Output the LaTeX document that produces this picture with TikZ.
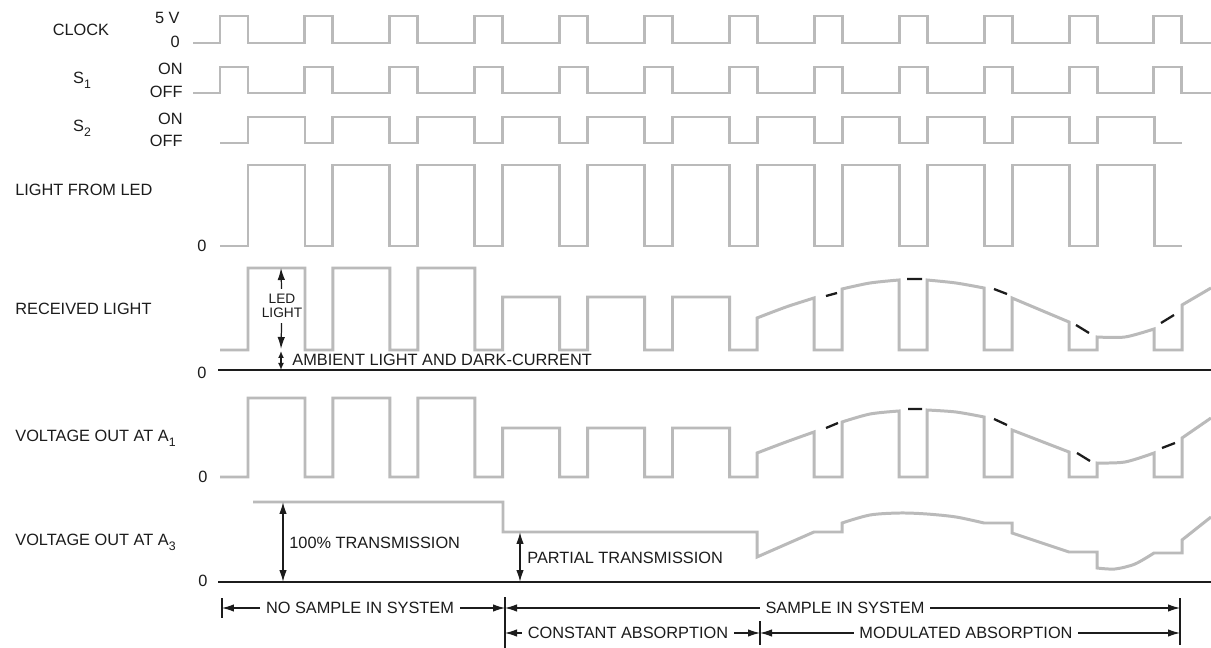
\documentclass[tikz,border=0pt]{standalone}
\usepackage{fontspec}
\setmainfont{Liberation Sans}
\usetikzlibrary{arrows.meta}
\definecolor{TrInk}{HTML}{1C1C1C}
\definecolor{TrWave}{HTML}{BABABA}
\definecolor{TrPaper}{HTML}{FFFFFF}
\newcommand{\lowsub}[1]{\raisebox{-0.55ex}{\fontsize{7}{8}\selectfont #1}}
\tikzset{
  wave/.style={TrWave,line width=1.7pt},
  axisline/.style={TrInk,line width=1.1pt},
  trace/.style={TrInk,line width=1.3pt},
  dim/.style={-{Latex[length=2.4mm,width=1.5mm]},TrInk,line width=0.7pt},
  dimboth/.style={{Latex[length=2.4mm,width=1.5mm]}-{Latex[length=2.4mm,width=1.5mm]},TrInk,line width=0.8pt},
  dimtiny/.style={{Latex[length=1.4mm,width=1.2mm]}-{Latex[length=1.4mm,width=1.2mm]},TrInk,line width=0.8pt},
  bar/.style={TrInk,line width=0.7pt},
  label/.style={text=TrInk,font=\fontsize{9.3}{11}\selectfont,inner sep=0pt},
  tag/.style={label,anchor=east},
  sidetag/.style={label,anchor=west},
  dimtext/.style={label,inner xsep=1.1mm},
  smalltext/.style={label,font=\fontsize{7.8}{8}\selectfont,align=center,inner ysep=1mm},
}

\begin{document}
\begin{tikzpicture}[x=0.02cm,y=-0.02cm]
  \useasboundingbox[fill=TrPaper] (0,0) rectangle (1211,648);
  \def\per{84.9}

  % switching signals
  \draw[wave] (193,43) foreach \k in {0,...,11} {
    -- ({220+\per*\k},43) -- ({220+\per*\k},16) -- ({248+\per*\k},16) -- ({248+\per*\k},43)} -- (1211,43);
  \draw[wave] (193,93) foreach \k in {0,...,11} {
    -- ({220+\per*\k},93) -- ({220+\per*\k},67) -- ({248+\per*\k},67) -- ({248+\per*\k},93)} -- (1211,93);
  \draw[wave] (220,143) foreach \k in {0,...,10} {
    -- ({248+\per*\k},143) -- ({248+\per*\k},117) -- ({305+\per*\k},117) -- ({305+\per*\k},143)} -- (1182,143);
  \draw[wave] (220,246) foreach \k in {0,...,10} {
    -- ({248+\per*\k},246) -- ({248+\per*\k},165) -- ({305+\per*\k},165) -- ({305+\per*\k},246)} -- (1182,246);

  % received light
  \draw[wave] (220,350)
    foreach \k in {0,1,2} {-- ({248+\per*\k},350) -- ({248+\per*\k},268) -- ({305+\per*\k},268) -- ({305+\per*\k},350)}
    foreach \k in {3,4,5} {-- ({248+\per*\k},350) -- ({248+\per*\k},297) -- ({305+\per*\k},297) -- ({305+\per*\k},350)}
    -- (757,350) -- (757,318) -- plot[smooth] coordinates {(757,318) (786,307) (814,298)}
    -- (814,350) -- (842,350) -- (842,289) -- plot[smooth] coordinates {(842,289) (870,283) (899,280)}
    -- (899,350) -- (927,350) -- (927,280) -- plot[smooth] coordinates {(927,280) (956,283) (984,288)}
    -- (984,350) -- (1012,350) -- (1012,298) -- (1069,322)
    -- (1069,350) -- (1097,350) -- (1097,337) -- plot[smooth] coordinates {(1097,337) (1125,337) (1154,329)}
    -- (1154,350) -- (1182,350) -- (1182,305) -- (1211,288);
  \draw[trace] (826,296) -- (837,293) (907,279) -- (922,279) (994,289) -- (1007,294)
    (1076,325) -- (1089,333) (1161,323) -- (1174,315);

  % output of A1
  \draw[wave] (220,477)
    foreach \k in {0,1,2} {-- ({248+\per*\k},477) -- ({248+\per*\k},398) -- ({305+\per*\k},398) -- ({305+\per*\k},477)}
    foreach \k in {3,4,5} {-- ({248+\per*\k},477) -- ({248+\per*\k},428) -- ({305+\per*\k},428) -- ({305+\per*\k},477)}
    -- (757,477) -- (757,453) -- plot[smooth] coordinates {(757,453) (786,442) (814,432)}
    -- (814,477) -- (842,477) -- (842,422) -- plot[smooth] coordinates {(842,422) (870,414) (899,411)}
    -- (899,477) -- (927,477) -- (927,410) -- plot[smooth] coordinates {(927,410) (956,412) (984,417)}
    -- (984,477) -- (1012,477) -- (1012,430) -- (1069,452)
    -- (1069,477) -- (1097,477) -- (1097,463) -- plot[smooth] coordinates {(1097,463) (1125,462) (1154,453)}
    -- (1154,477) -- (1182,477) -- (1182,438) -- (1211,418);
  \draw[trace] (826,428) -- (838,423) (908,409) -- (922,409) (994,419) -- (1007,425)
    (1077,453) -- (1090,461) (1162,448) -- (1175,443);

  % output of A3
  \draw[wave] (253,502) -- (503,502) -- (503,532) -- (757,532) -- (757,557) -- (814,532) -- (842,532)
    -- (842,523) -- plot[smooth] coordinates {(842,523) (870,515) (900,513) (927,514) (956,517) (984,523)}
    -- (1012,523) -- (1012,533) -- (1069,552) -- (1097,552)
    -- (1097,568) -- plot[smooth] coordinates {(1097,568) (1115,569) (1135,564) (1154,553)}
    -- (1182,553) -- (1182,540) -- (1211,517);

  \draw[axisline] (218,370) -- (1211,370);
  \draw[axisline] (218,582) -- (1211,582);

  % row labels
  \node[label] (clock) at (81,30) {CLOCK};
  \node[tag] (clkhi) at (180,18) {5 V};
  \node[tag] (clklo) at (180,42) {0};
  \node[label] (sone) at (82,80) {S\lowsub{1}};
  \node[tag] (sonehi) at (183,69) {ON};
  \node[tag] (sonelo) at (183,92) {OFF};
  \node[label] (stwo) at (82,128) {S\lowsub{2}};
  \node[tag] (stwohi) at (183,119) {ON};
  \node[tag] (stwolo) at (183,141) {OFF};
  \node[sidetag] (ledlbl) at (15,190) {LIGHT FROM LED};
  \node[label] (ledzero) at (202,246) {0};
  \node[sidetag] (rxlbl) at (15,309) {RECEIVED LIGHT};
  \node[label] (rxzero) at (202,373) {0};
  \node[sidetag] (aonelbl) at (15,438) {VOLTAGE OUT AT A\lowsub{1}};
  \node[label] (aonezero) at (203,477) {0};
  \node[sidetag] (athreelbl) at (15,542) {VOLTAGE OUT AT A\lowsub{3}};
  \node[label] (athreezero) at (203,581) {0};

  % levels
  \coordinate (ledtop) at (281,268);
  \coordinate (ledbot) at (281,349);
  \coordinate (ambtop) at (281,351);
  \coordinate (ambbot) at (281,370);
  \node[smalltext] (ledlight) at (282,306) {LED\\LIGHT};
  \draw[dim] (ledlight) -- (ledtop);
  \draw[dim] (ledlight) -- (ledbot);
  \draw[dimtiny] (ambtop) -- (ambbot);
  \node[sidetag] (ambient) at (292,360) {AMBIENT LIGHT AND DARK-CURRENT};

  \coordinate (fulltop) at (283,502);
  \coordinate (fullbot) at (283,582);
  \draw[dimboth] (fulltop) -- (fullbot);
  \node[sidetag] (fulltext) at (289,543) {100\% TRANSMISSION};
  \coordinate (parttop) at (520,532);
  \coordinate (partbot) at (520,582);
  \draw[dimboth] (parttop) -- (partbot);
  \node[sidetag] (parttext) at (527,558) {PARTIAL TRANSMISSION};

  % phases
  \coordinate (nsL) at (222,608);
  \coordinate (nsR) at (505,608);
  \coordinate (siR) at (1180,608);
  \coordinate (caL) at (505,633);
  \coordinate (caR) at (760,633);
  \coordinate (maR) at (1180,633);
  \node[dimtext] (nosample) at (360,608) {NO SAMPLE IN SYSTEM};
  \node[dimtext] (insample) at (845,608) {SAMPLE IN SYSTEM};
  \node[dimtext] (constabs) at (628,633) {CONSTANT ABSORPTION};
  \node[dimtext] (modabs) at (966,633) {MODULATED ABSORPTION};
  \draw[dim] (nosample) -- (nsL);
  \draw[dim] (nosample) -- (nsR);
  \draw[dim] (insample) -- (nsR);
  \draw[dim] (insample) -- (siR);
  \draw[dim] (constabs) -- (caL);
  \draw[dim] (constabs) -- (caR);
  \draw[dim] (modabs) -- (caR);
  \draw[dim] (modabs) -- (maR);
  \draw[bar] (222,598) -- (222,618);
  \draw[bar] (505,597) -- (505,648);
  \draw[bar] (760,621) -- (760,645);
  \draw[bar] (1180,598) -- (1180,645);
\end{tikzpicture}
\end{document}
